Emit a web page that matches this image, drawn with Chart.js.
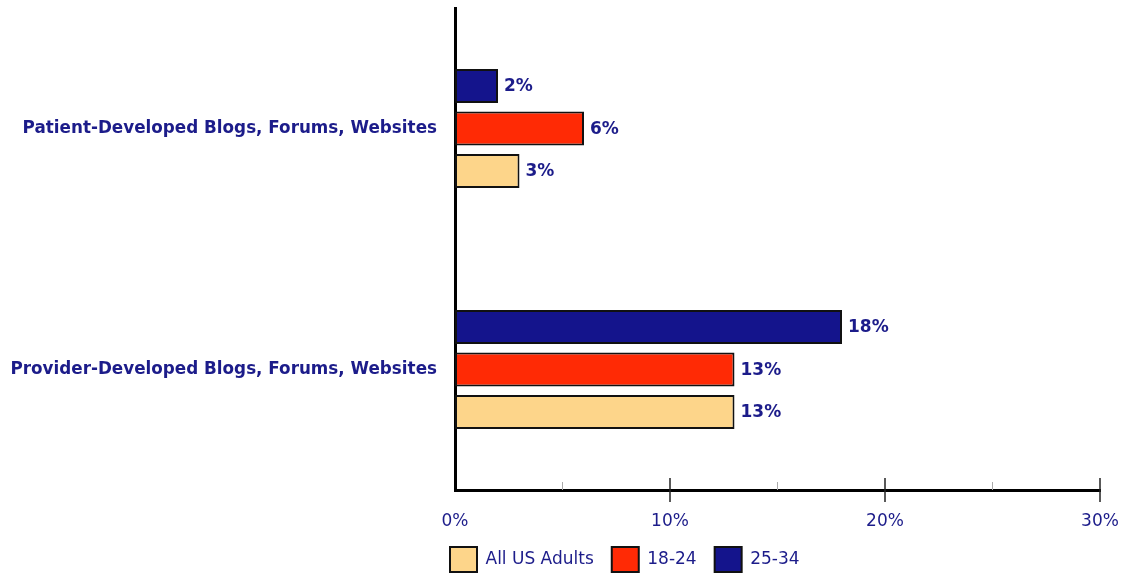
<!DOCTYPE html>
<html>
<head>
<meta charset="utf-8">
<script src="https://cdn.jsdelivr.net/npm/chart.js@4/dist/chart.umd.min.js"></script>
<style>
  html, body { margin: 0; padding: 0; background: #fff; }
  #wrap { width: 1129px; height: 575px; position: relative; }
</style>
</head>
<body>
<div id="wrap"><canvas id="chart"></canvas></div>
<script>
// values
const categories = [
  "Patient-Developed Blogs, Forums, Websites",
  "Provider-Developed Blogs, Forums, Websites",
]
const age2534 = [2, 18]
const age1824 = [6, 13]
const allAdults = [3, 13]
const xTicks = [0, 10, 20, 30]

const navy = "#1c1c8a"
const font = "'DejaVu Sans', Verdana, sans-serif"

// value labels at the end of each bar
const barLabels = {
  id: "barLabels",
  afterDatasetsDraw(chart) {
    const ctx = chart.ctx
    ctx.save()
    ctx.font = `bold 17px ${font}`
    ctx.fillStyle = navy
    ctx.textBaseline = "middle"
    chart.data.datasets.forEach((ds, i) => {
      chart.getDatasetMeta(i).data.forEach((bar, j) => {
        ctx.fillText(ds.data[j] + "%", bar.x + 6, bar.y + 1)
      })
    })
    ctx.restore()
  },
}

// major ticks cross the axis, minor ones sit above it
const axisTicks = {
  id: "axisTicks",
  afterDraw(chart) {
    const x = chart.scales.x
    const ctx = chart.ctx
    const y0 = chart.chartArea.bottom
    ctx.save()
    for (let v = 5; v <= 30; v += 5) {
      const px = x.getPixelForValue(v)
      const major = v % 10 === 0
      ctx.strokeStyle = major ? "#222" : "#aaa"
      ctx.lineWidth = major ? 1.5 : 1
      ctx.beginPath()
      ctx.moveTo(px, y0 - (major ? 12 : 8))
      ctx.lineTo(px, y0 + (major ? 12 : 0))
      ctx.stroke()
    }
    ctx.restore()
  },
}

// the legend starts just left of the value axis
const legendShift = {
  id: "legendShift",
  afterLayout(chart) {
    const lg = chart.legend
    const dx = -23
    const dy = -6
    lg.left += dx
    lg.right += dx
    lg.top += dy
    lg.bottom += dy
  },
}

new Chart(document.getElementById("chart"), {
  type: "bar",
  data: {
    labels: categories,
    datasets: [
      { label: "25-34", data: age2534, backgroundColor: "#14148c" },
      { label: "18-24", data: age1824, backgroundColor: "#ff2a05" },
      { label: "All US Adults", data: allAdults, backgroundColor: "#fdd58a" },
    ].map((d) => ({
      ...d,
      borderColor: "#111",
      borderWidth: 2,
      borderSkipped: false,
      categoryPercentage: 0.53,
      barPercentage: 0.8,
    })),
  },
  options: {
    indexAxis: "y",
    responsive: true,
    maintainAspectRatio: false,
    animation: false,
    layout: { padding: { top: 8, right: 29, bottom: -13, left: 0 } },
    scales: {
      x: {
        min: 0,
        max: 30,
        afterBuildTicks(scale) { scale.ticks = xTicks.map((v) => ({ value: v })) },
        grid: { display: false, drawTicks: false },
        border: { display: true, color: "#000", width: 3 },
        ticks: {
          color: navy,
          font: { family: font, size: 17 },
          padding: 21,
          callback: (v) => v + "%",
        },
        afterFit(scale) {
          scale.height = 45
          scale.paddingLeft = 0
          scale.paddingRight = 0
        },
      },
      y: {
        grid: { display: false, drawTicks: false },
        border: { display: true, color: "#000", width: 3 },
        ticks: {
          color: navy,
          font: { family: font, size: 16.8, weight: "bold" },
          padding: 18,
        },
        afterFit(scale) {
          scale.width = 455
          scale.paddingTop = 0
          scale.paddingBottom = 0
        },
      },
    },
    plugins: {
      tooltip: { enabled: false },
      legend: {
        position: "bottom",
        align: "start",
        fullSize: false,
        reverse: true,
        labels: {
          color: navy,
          font: { family: font, size: 17 },
          boxWidth: 27,
          boxHeight: 25,
          padding: 18,
        },
      },
    },
  },
  plugins: [barLabels, axisTicks, legendShift],
})
</script>
</body>
</html>
